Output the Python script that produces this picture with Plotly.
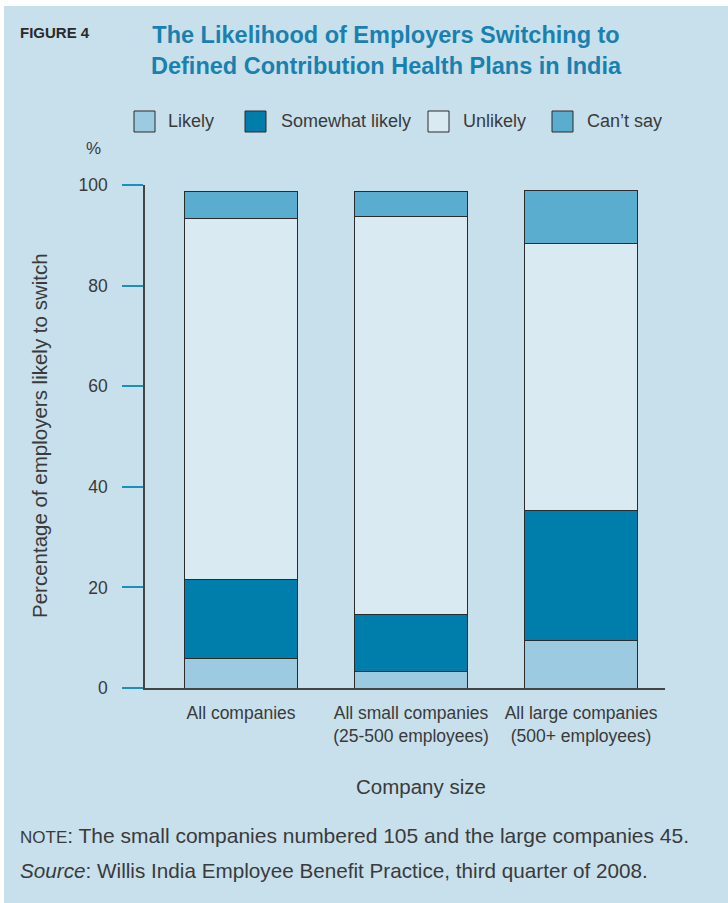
import plotly.graph_objects as go

categories = ["All companies", "All small companies<br>(25-500 employees)", "All large companies<br>(500+ employees)"]
series_names = ["Likely", "Somewhat likely", "Unlikely", "Can\u2019t say"]
likely = [5.9, 3.2, 9.5]
somewhat_likely = [15.7, 11.4, 25.7]
unlikely = [71.7, 79.2, 53.1]
cant_say = [5.4, 5.0, 10.7]
series_values = [likely, somewhat_likely, unlikely, cant_say]
colors = ["#9ccbe1", "#007eab", "#daeaf3", "#5aadcf"]
y_ticks = [0, 20, 40, 60, 80, 100]

W, H = 728, 903
L, R, T, B = 145, 63, 185, 215
PW, PH = W - L - R, H - T - B

def px(x):
    return (x - L) / PW

def py(y):
    return (H - B - y) / PH

BG = "#c7e0ec"
TXT = "#3a3a3a"
FONT = "Liberation Sans, Arial, sans-serif"

fig = go.Figure()
for name, vals, col in zip(series_names, series_values, colors):
    fig.add_trace(go.Bar(
        x=list(range(len(categories))), y=vals, name=name,
        marker=dict(color=col, line=dict(color="#2b2b2b", width=1)),
        width=0.665, showlegend=False,
    ))

shapes = [
    dict(type="rect", xref="paper", yref="paper", x0=px(4), x1=px(W + 5), y0=py(6), y1=py(H + 5),
         fillcolor=BG, line=dict(width=0), layer="below"),
]
annotations = []

leg_boxes = [(134, 166), (245, 279), (428, 461), (552, 585)]
for (bx, tx), name, col in zip(leg_boxes, series_names, colors):
    shapes.append(dict(type="rect", xref="paper", yref="paper",
                       x0=px(bx), x1=px(bx + 21), y0=py(111), y1=py(132),
                       fillcolor=col, line=dict(color="#2b2b2b", width=1)))
    annotations.append(dict(xref="paper", yref="paper", x=px(tx), y=py(121),
                            text=name, showarrow=False, xanchor="left", yanchor="middle",
                            font=dict(family=FONT, size=18, color=TXT)))

annotations += [
    dict(xref="paper", yref="paper", x=px(18), y=py(32), text="<b>FIGURE 4</b>",
         showarrow=False, xanchor="left", yanchor="middle",
         font=dict(family=FONT, size=15, color="#2a2a2a")),
    dict(xref="paper", yref="paper", x=px(386), y=py(50),
         text="<b>The Likelihood of Employers Switching to<br>Defined Contribution Health Plans in India</b>",
         showarrow=False, xanchor="center", yanchor="middle",
         font=dict(family=FONT, size=23.5, color="#1a80ae")),
    dict(xref="paper", yref="paper", x=px(93), y=py(148), text="%",
         showarrow=False, xanchor="center", yanchor="middle",
         font=dict(family=FONT, size=17, color=TXT)),
    dict(xref="paper", yref="paper", x=px(421), y=py(786), text="Company size",
         showarrow=False, xanchor="center", yanchor="middle",
         font=dict(family=FONT, size=20.5, color=TXT)),
    dict(xref="paper", yref="paper", x=px(18), y=py(835),
         text="<span style='font-size:17px'>NOTE</span>: The small companies numbered 105 and the large companies 45.",
         showarrow=False, xanchor="left", yanchor="middle",
         font=dict(family=FONT, size=21, color=TXT)),
    dict(xref="paper", yref="paper", x=px(18), y=py(870),
         text="<i>Source</i>: Willis India Employee Benefit Practice, third quarter of 2008.",
         showarrow=False, xanchor="left", yanchor="middle",
         font=dict(family=FONT, size=20.7, color=TXT)),
    dict(xref="paper", yref="paper", x=px(39), y=py(436),
         text="Percentage of employers likely to switch", textangle=-90,
         showarrow=False, xanchor="center", yanchor="middle",
         font=dict(family=FONT, size=20.5, color=TXT)),
]

fig.update_layout(
    width=W, height=H,
    margin=dict(l=L, r=R, t=T, b=B, pad=0),
    paper_bgcolor="white", plot_bgcolor="rgba(0,0,0,0)",
    barmode="stack", bargap=0.3,
    shapes=shapes, annotations=annotations,
    font=dict(family=FONT, color=TXT),
    xaxis=dict(
        range=[-0.565, 2.494], tickmode="array",
        tickvals=list(range(len(categories))), ticktext=categories,
        showline=True, linecolor="#444444", linewidth=1.5,
        showgrid=False, zeroline=False, ticks="",
        ticklabelstandoff=8,
        tickfont=dict(family=FONT, size=17.5, color=TXT),
    ),
    yaxis=dict(
        range=[0, 100], tickvals=y_ticks,
        showline=True, linecolor="#444444", linewidth=1.5,
        showgrid=False, zeroline=False,
        ticks="outside", ticklen=21, tickcolor="#1a8fc0", tickwidth=1.5,
        ticklabelstandoff=11,
        tickfont=dict(family=FONT, size=17.5, color=TXT),
    ),
)

fig.write_html("out.html")
